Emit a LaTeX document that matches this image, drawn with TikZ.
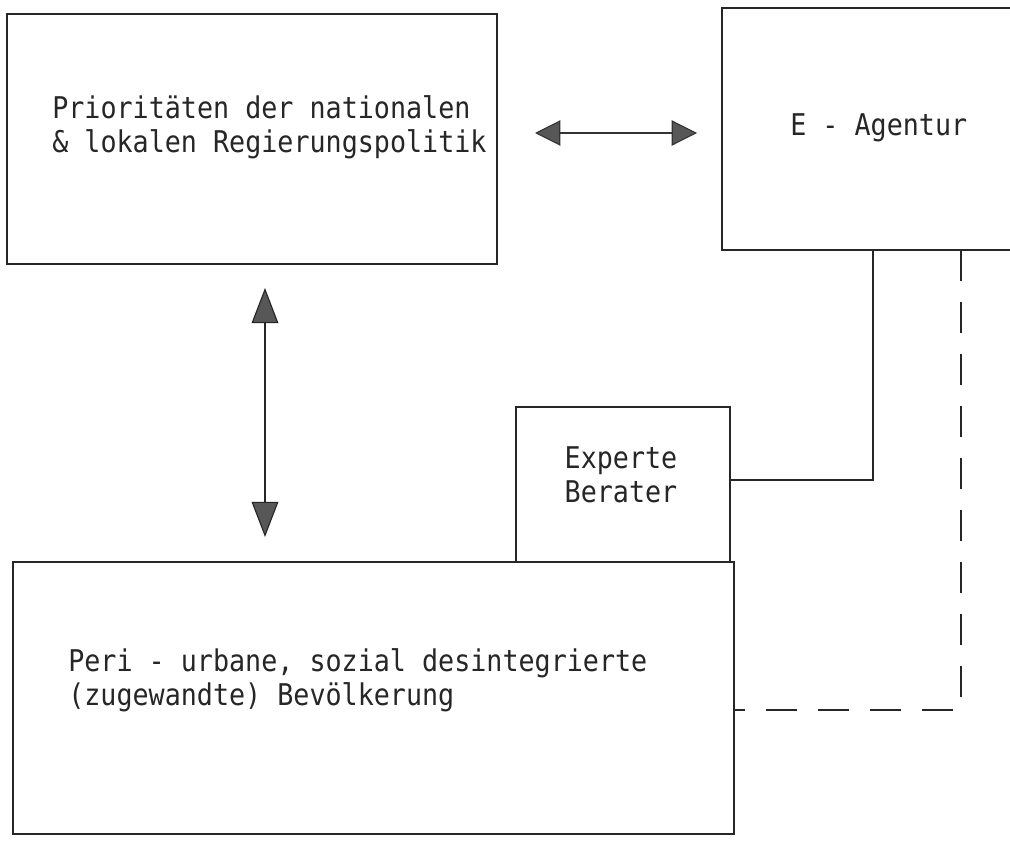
\documentclass[tikz,border=0pt]{standalone}
\usepackage{fontspec}
\setmonofont{DejaVu Sans Mono}
\usetikzlibrary{arrows.meta}
\begin{document}
\begin{tikzpicture}[x=0.025cm,y=-0.025cm,
  txt/.style={font=\ttfamily\fontsize{19}{21.5}\selectfont,text=black!85,yscale=1.12,transform shape,inner sep=0pt},
  frame/.style={draw=black!85,line width=1.3pt},
  link/.style={draw=black!85,line width=1.2pt},
  headv/.tip={Triangle[length=25pt,width=19pt,fill=black!66,line width=0.8pt]},
  headh/.tip={Triangle[length=18pt,width=18pt,fill=black!66,line width=0.8pt]},
  twowayv/.style={line width=1.5pt,black!85,headv-headv},
  twowayh/.style={line width=1.1pt,black!80,headh-headh}]
\clip (0,0) rectangle (1010,840);
\fill[white] (0,0) rectangle (1010,840);

% government priorities
\draw[frame] (7,14) rectangle (497,264);
\node[txt,align=left,anchor=west] (ptext) at (52,127) {Prioritäten der nationalen\\\& lokalen Regierungspolitik};

% development agency, running off the right margin
\draw[frame] (722,8) rectangle (1030,250);
\node[txt,anchor=west] (etext) at (790,128) {E - Agentur};

% expert / adviser
\draw[frame] (516,407) rectangle (730,562);
\node[txt,align=center] (xtext) at (621,475) {Experte\\Berater};

% target population
\draw[frame] (13,562) rectangle (734,834);
\node[txt,align=left,anchor=west] (btext) at (68,680) {Peri - urbane, sozial desintegrierte\\(zugewandte) Bevölkerung};

% connection points on the box outlines
\coordinate (A) at (535,133);
\coordinate (E) at (697,133);
\coordinate (Abot) at (265,288);
\coordinate (Btop) at (265,537);
\coordinate (Esolid) at (873,250);
\coordinate (Edash) at (961,250);
\coordinate (Xright) at (730,480);
\coordinate (Bright) at (734,710);

% two-way relations
\draw[twowayh] (A) -- (E);
\draw[twowayv] (Abot) -- (Btop);

% agency links: direct to the expert, indirect to the population
\draw[link] (Esolid) -- (Esolid |- Xright) -- (Xright);
\draw[link,dash pattern=on 22pt off 15pt] (Edash) -- (Edash |- Bright) -- (Bright);
\end{tikzpicture}
\end{document}
